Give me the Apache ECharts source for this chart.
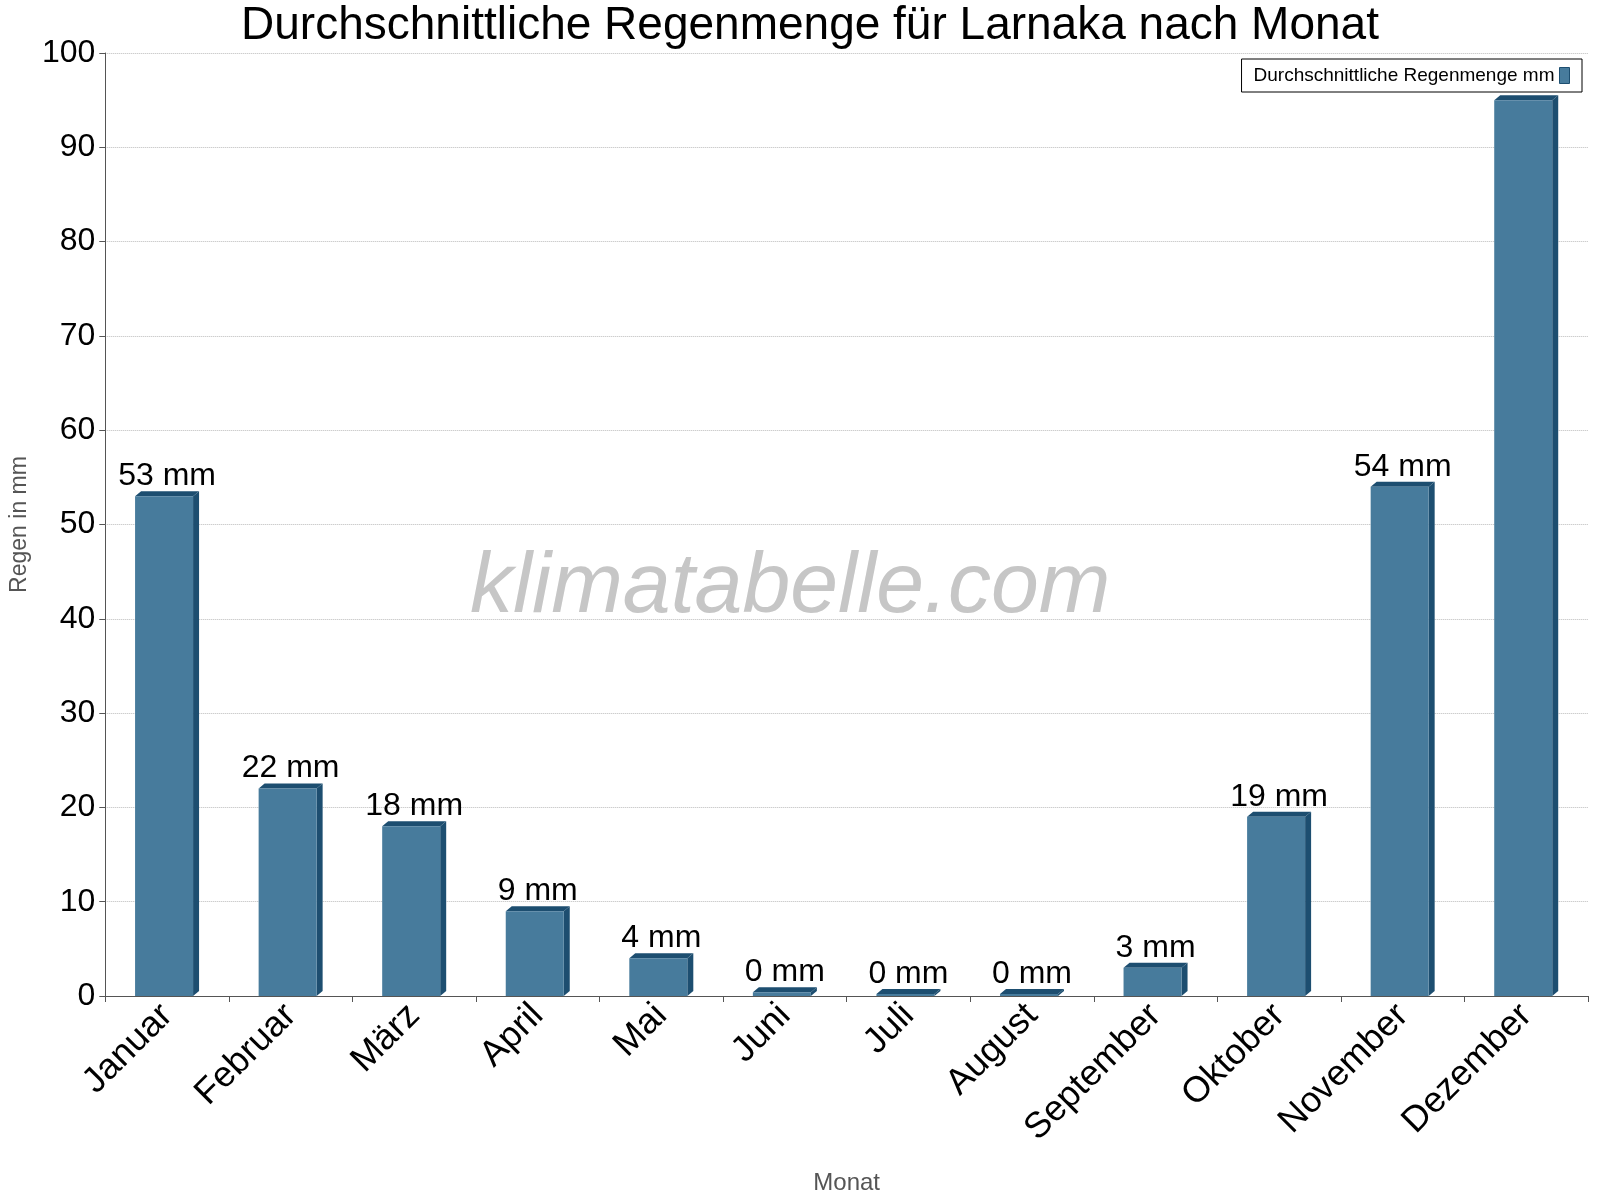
<!DOCTYPE html>
<html><head><meta charset="utf-8">
<script src="https://cdn.jsdelivr.net/npm/echarts@6/dist/echarts.min.js"></script>
<style>html,body{margin:0;background:#fff}#c{width:1600px;height:1200px}</style>
</head><body><div id="c"></div>
<script>
var months = ['Januar','Februar','März','April','Mai','Juni','Juli','August','September','Oktober','November','Dezember'];
var rain = [53, 22, 18, 9, 4, 0.4, 0.2, 0.2, 3, 19, 54, 95];
var labels = ['53 mm','22 mm','18 mm','9 mm','4 mm','0 mm','0 mm','0 mm','3 mm','19 mm','54 mm',''];
var yTicks = [0, 10, 20, 30, 40, 50, 60, 70, 80, 90, 100];

var chart = echarts.init(document.getElementById('c'));

function bar3d(params, api) {
    var i = api.value(0);
    var top = api.coord([i, api.value(1)]);
    var base = api.coord([i, 0]);
    var w = 58, d = 6;
    var x0 = top[0] - w / 2 - 3, x1 = x0 + w;
    var h = base[1] - top[1];
    return {
        type: 'group',
        children: [
            {type: 'polygon', shape: {points: [[x1, top[1]], [x1 + d, top[1] - 5], [x1 + d, base[1] - 5], [x1, base[1]]]},
             style: {fill: '#1d4e70'}},
            {type: 'polygon', shape: {points: [[x0, top[1]], [x0 + d, top[1] - 5], [x1 + d, top[1] - 5], [x1, top[1]]]},
             style: {fill: '#1d4e70'}},
            {type: 'rect', shape: {x: x0, y: top[1], width: w, height: Math.max(h, 0)},
             style: {fill: '#477b9c'}},
            {type: 'text', style: {text: labels[i], x: top[0], y: top[1] - 4, align: 'center', verticalAlign: 'bottom',
             font: '32px "Liberation Sans", Arial', fill: '#000'}}
        ]
    };
}

chart.setOption({
    animation: false,
    title: {
        text: 'Durchschnittliche Regenmenge für Larnaka nach Monat',
        left: 805, top: -2, textAlign: 'center',
        textStyle: {fontFamily: 'Liberation Sans', fontSize: 46, fontWeight: 'normal', color: '#000'}
    },
    legend: {
        right: 18, top: 59,
        itemWidth: 10, itemHeight: 16,
        align: 'right',
        borderColor: '#000', borderWidth: 1, borderRadius: 0,
        padding: [7, 12],
        textStyle: {fontFamily: 'Liberation Sans', fontSize: 19, color: '#000'},
        data: [{name: 'Durchschnittliche Regenmenge mm', icon: 'rect', itemStyle: {color: '#477b9c', borderColor: '#1d4e70', borderWidth: 1}}]
    },
    grid: {left: 100, right: 12, top: 53, bottom: 203},
    graphic: [{
        type: 'text', left: 470, top: 545,
        style: {text: 'klimatabelle.com', font: 'italic 86px "Liberation Sans", Arial', fill: '#c6c6c6'}
    }],
    xAxis: {
        type: 'category', data: months,
        name: 'Monat', nameLocation: 'middle', nameGap: 175,
        nameTextStyle: {fontFamily: 'Liberation Sans', fontSize: 24, color: '#555'},
        axisLine: {lineStyle: {color: '#555'}},
        axisTick: {show: true, length: 6, lineStyle: {color: '#555'}},
        axisLabel: {rotate: 45, fontFamily: 'Liberation Sans', fontSize: 36, color: '#000', margin: 14,
            padding: [0, 0, 0, 0], align: 'right', offset: [0, 0]}
    },
    yAxis: {
        type: 'value', min: 0, max: 100, interval: 10,
        name: 'Regen in mm', nameLocation: 'middle', nameGap: 72,
        nameTextStyle: {fontFamily: 'Liberation Sans', fontSize: 23, color: '#555'},
        axisLine: {show: true, lineStyle: {color: '#555'}},
        axisTick: {show: true, length: 6, lineStyle: {color: '#555'}},
        axisLabel: {fontFamily: 'Liberation Sans', fontSize: 32, color: '#000', margin: 10,
            formatter: function (v) { return yTicks.indexOf(v) >= 0 ? String(v) : ''; }},
        splitLine: {lineStyle: {color: '#bbb', type: 'dotted'}}
    },
    series: [{
        name: 'Durchschnittliche Regenmenge mm',
        type: 'custom',
        renderItem: bar3d,
        itemStyle: {color: '#477b9c'},
        encode: {x: 0, y: 1},
        data: rain.map(function (v, i) { return [i, v]; })
    }]
});
</script>
</body></html>
